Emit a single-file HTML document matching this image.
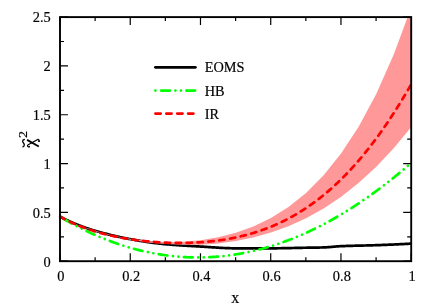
<!DOCTYPE html>
<html><head><meta charset="utf-8"><title>chart</title>
<style>
html,body{margin:0;padding:0;background:#fff;}
body{width:436px;height:305px;overflow:hidden;}
svg{display:block;}
text{font-family:"Liberation Serif",serif;fill:#000;stroke:#000;stroke-width:0.18px;}
text{filter:grayscale(1);}
</style></head><body>
<svg width="436" height="305" viewBox="0 0 436 305">
<rect width="436" height="305" fill="#fff"/>
<defs><clipPath id="c"><rect x="58.5" y="17.1" width="353.4" height="244.1"/></clipPath></defs>
<g clip-path="url(#c)">
<path d="M60.00,216.59 L60.88,217.06 L61.76,217.51 L62.64,217.97 L63.52,218.41 L64.39,218.85 L65.27,219.29 L66.15,219.72 L67.03,220.14 L67.91,220.56 L68.79,220.97 L69.67,221.38 L70.55,221.77 L71.42,222.17 L72.30,222.56 L73.18,222.94 L74.06,223.31 L74.94,223.68 L75.82,224.04 L76.70,224.40 L77.58,224.75 L78.45,225.09 L79.33,225.43 L80.21,225.77 L81.09,226.10 L81.97,226.43 L82.85,226.76 L83.73,227.08 L84.61,227.39 L85.48,227.70 L86.36,228.01 L87.24,228.31 L88.12,228.61 L89.00,228.90 L89.88,229.19 L90.76,229.47 L91.63,229.75 L92.51,230.02 L93.39,230.29 L94.27,230.55 L95.15,230.80 L96.03,231.05 L96.91,231.30 L97.79,231.55 L98.66,231.79 L99.54,232.04 L100.42,232.28 L101.30,232.52 L102.18,232.76 L103.06,232.99 L103.94,233.22 L104.82,233.46 L105.69,233.68 L106.57,233.91 L107.45,234.14 L108.33,234.36 L109.21,234.58 L110.09,234.80 L110.97,235.01 L111.85,235.23 L112.72,235.44 L113.60,235.65 L114.48,235.85 L115.36,236.06 L116.24,236.26 L117.12,236.46 L118.00,236.66 L118.88,236.85 L119.75,237.04 L120.63,237.23 L121.51,237.42 L122.39,237.60 L123.27,237.78 L124.15,237.96 L125.03,238.14 L125.91,238.31 L126.78,238.48 L127.66,238.65 L128.54,238.81 L129.42,238.98 L130.30,239.13 L131.18,239.29 L132.06,239.45 L132.94,239.60 L133.81,239.76 L134.69,239.91 L135.57,240.06 L136.45,240.22 L137.33,240.37 L138.21,240.52 L139.09,240.66 L139.97,240.81 L140.84,240.96 L141.72,241.10 L142.60,241.24 L143.48,241.38 L144.36,241.52 L145.24,241.66 L146.12,241.80 L147.00,241.93 L147.88,242.06 L148.75,242.19 L149.63,242.32 L150.51,242.44 L151.39,242.57 L152.27,242.69 L153.15,242.81 L154.03,242.93 L154.91,243.04 L155.78,243.15 L156.66,243.26 L157.54,243.37 L158.42,243.48 L159.30,243.58 L160.18,243.68 L161.06,243.77 L161.94,243.87 L162.81,243.96 L163.69,244.05 L164.57,244.13 L165.45,244.21 L166.33,244.29 L167.21,244.37 L168.09,244.45 L168.97,244.52 L169.84,244.59 L170.72,244.66 L171.60,244.73 L172.48,244.80 L173.36,244.87 L174.24,244.94 L175.12,245.00 L176.00,245.06 L176.87,245.13 L177.75,245.19 L178.63,245.25 L179.51,245.31 L180.39,245.36 L181.27,245.42 L182.15,245.48 L183.03,245.53 L183.90,245.59 L184.78,245.64 L185.66,245.70 L186.54,245.75 L187.42,245.80 L188.30,245.85 L189.18,245.90 L190.06,245.96 L190.93,246.01 L191.81,246.06 L192.69,246.11 L193.57,246.16 L194.45,246.21 L195.33,246.26 L196.21,246.31 L197.09,246.36 L197.96,246.41 L198.84,246.46 L199.72,246.51 L200.60,246.56 L201.48,246.61 L202.36,246.66 L203.24,246.71 L204.12,246.77 L204.99,246.82 L205.87,246.88 L206.75,246.94 L207.63,246.99 L208.51,247.05 L209.39,247.11 L210.27,247.17 L211.15,247.23 L212.02,247.29 L212.90,247.35 L213.78,247.41 L214.66,247.46 L215.54,247.52 L216.42,247.58 L217.30,247.63 L218.18,247.68 L219.05,247.74 L219.93,247.79 L220.81,247.84 L221.69,247.89 L222.57,247.93 L223.45,247.98 L224.33,248.02 L225.21,248.06 L226.08,248.10 L226.96,248.13 L227.84,248.16 L228.72,248.19 L229.60,248.22 L230.48,248.24 L231.36,248.26 L232.23,248.28 L233.11,248.29 L233.99,248.30 L234.87,248.31 L235.75,248.31 L236.63,248.31 L237.51,248.31 L238.39,248.31 L239.27,248.31 L240.14,248.31 L241.02,248.31 L241.90,248.31 L242.78,248.31 L243.66,248.31 L244.54,248.31 L245.42,248.31 L246.30,248.31 L247.17,248.31 L248.05,248.31 L248.93,248.31 L249.81,248.31 L250.69,248.31 L251.57,248.31 L252.45,248.31 L253.33,248.31 L254.20,248.31 L255.08,248.31 L255.96,248.31 L256.84,248.31 L257.72,248.31 L258.60,248.31 L259.48,248.31 L260.36,248.31 L261.23,248.31 L262.11,248.31 L262.99,248.31 L263.87,248.31 L264.75,248.31 L265.63,248.31 L266.51,248.31 L267.38,248.31 L268.26,248.31 L269.14,248.31 L270.02,248.31 L270.90,248.31 L271.78,248.31 L272.66,248.31 L273.54,248.31 L274.41,248.30 L275.29,248.29 L276.17,248.29 L277.05,248.28 L277.93,248.27 L278.81,248.26 L279.69,248.25 L280.57,248.24 L281.44,248.22 L282.32,248.21 L283.20,248.19 L284.08,248.18 L284.96,248.16 L285.84,248.15 L286.72,248.13 L287.60,248.11 L288.48,248.09 L289.35,248.07 L290.23,248.06 L291.11,248.04 L291.99,248.02 L292.87,248.00 L293.75,247.98 L294.63,247.96 L295.50,247.94 L296.38,247.92 L297.26,247.90 L298.14,247.88 L299.02,247.86 L299.90,247.84 L300.78,247.83 L301.66,247.81 L302.54,247.79 L303.41,247.77 L304.29,247.76 L305.17,247.74 L306.05,247.73 L306.93,247.71 L307.81,247.70 L308.69,247.69 L309.56,247.67 L310.44,247.66 L311.32,247.65 L312.20,247.64 L313.08,247.63 L313.96,247.62 L314.84,247.60 L315.72,247.59 L316.59,247.58 L317.47,247.56 L318.35,247.55 L319.23,247.53 L320.11,247.52 L320.99,247.50 L321.87,247.48 L322.75,247.46 L323.62,247.43 L324.50,247.40 L325.38,247.37 L326.26,247.32 L327.14,247.26 L328.02,247.20 L328.90,247.14 L329.78,247.06 L330.66,246.99 L331.53,246.91 L332.41,246.83 L333.29,246.75 L334.17,246.67 L335.05,246.59 L335.93,246.52 L336.81,246.45 L337.69,246.38 L338.56,246.31 L339.44,246.26 L340.32,246.21 L341.20,246.16 L342.08,246.13 L342.96,246.09 L343.84,246.06 L344.72,246.03 L345.59,246.00 L346.47,245.97 L347.35,245.94 L348.23,245.91 L349.11,245.89 L349.99,245.86 L350.87,245.84 L351.75,245.81 L352.62,245.79 L353.50,245.77 L354.38,245.74 L355.26,245.72 L356.14,245.70 L357.02,245.68 L357.90,245.66 L358.77,245.64 L359.65,245.62 L360.53,245.60 L361.41,245.58 L362.29,245.56 L363.17,245.54 L364.05,245.52 L364.93,245.50 L365.81,245.48 L366.68,245.46 L367.56,245.44 L368.44,245.42 L369.32,245.40 L370.20,245.37 L371.08,245.35 L371.96,245.33 L372.83,245.30 L373.71,245.27 L374.59,245.25 L375.47,245.22 L376.35,245.19 L377.23,245.16 L378.11,245.13 L378.99,245.10 L379.87,245.06 L380.74,245.03 L381.62,245.00 L382.50,244.97 L383.38,244.93 L384.26,244.90 L385.14,244.86 L386.02,244.83 L386.90,244.79 L387.77,244.76 L388.65,244.72 L389.53,244.68 L390.41,244.64 L391.29,244.61 L392.17,244.57 L393.05,244.53 L393.93,244.49 L394.80,244.45 L395.68,244.41 L396.56,244.37 L397.44,244.33 L398.32,244.29 L399.20,244.25 L400.08,244.20 L400.95,244.16 L401.83,244.12 L402.71,244.08 L403.59,244.03 L404.47,243.99 L405.35,243.94 L406.23,243.90 L407.11,243.86 L407.99,243.81 L408.86,243.76 L409.74,243.72 L410.62,243.67 L411.50,243.63" fill="none" stroke="#000" stroke-width="2.7"/>
<path d="M60.00,216.59 L60.88,217.14 L61.76,217.67 L62.64,218.21 L63.52,218.73 L64.39,219.26 L65.27,219.78 L66.15,220.29 L67.03,220.80 L67.91,221.30 L68.79,221.81 L69.67,222.30 L70.55,222.79 L71.42,223.28 L72.30,223.77 L73.18,224.25 L74.06,224.72 L74.94,225.19 L75.82,225.66 L76.70,226.13 L77.58,226.59 L78.45,227.04 L79.33,227.50 L80.21,227.94 L81.09,228.39 L81.97,228.83 L82.85,229.27 L83.73,229.70 L84.61,230.13 L85.48,230.56 L86.36,230.98 L87.24,231.40 L88.12,231.82 L89.00,232.23 L89.88,232.64 L90.76,233.04 L91.63,233.45 L92.51,233.84 L93.39,234.24 L94.27,234.63 L95.15,235.02 L96.03,235.40 L96.91,235.78 L97.79,236.16 L98.66,236.54 L99.54,236.91 L100.42,237.28 L101.30,237.64 L102.18,238.00 L103.06,238.36 L103.94,238.71 L104.82,239.06 L105.69,239.41 L106.57,239.75 L107.45,240.09 L108.33,240.43 L109.21,240.76 L110.09,241.09 L110.97,241.42 L111.85,241.75 L112.72,242.07 L113.60,242.38 L114.48,242.70 L115.36,243.01 L116.24,243.31 L117.12,243.62 L118.00,243.92 L118.88,244.22 L119.75,244.51 L120.63,244.80 L121.51,245.09 L122.39,245.37 L123.27,245.65 L124.15,245.93 L125.03,246.20 L125.91,246.47 L126.78,246.74 L127.66,247.00 L128.54,247.26 L129.42,247.52 L130.30,247.78 L131.18,248.03 L132.06,248.27 L132.94,248.52 L133.81,248.76 L134.69,249.00 L135.57,249.23 L136.45,249.46 L137.33,249.69 L138.21,249.91 L139.09,250.14 L139.97,250.35 L140.84,250.57 L141.72,250.78 L142.60,250.99 L143.48,251.19 L144.36,251.39 L145.24,251.59 L146.12,251.78 L147.00,251.98 L147.88,252.16 L148.75,252.35 L149.63,252.53 L150.51,252.71 L151.39,252.88 L152.27,253.06 L153.15,253.22 L154.03,253.39 L154.91,253.55 L155.78,253.71 L156.66,253.86 L157.54,254.02 L158.42,254.17 L159.30,254.31 L160.18,254.45 L161.06,254.59 L161.94,254.73 L162.81,254.86 L163.69,254.99 L164.57,255.11 L165.45,255.24 L166.33,255.35 L167.21,255.47 L168.09,255.58 L168.97,255.69 L169.84,255.80 L170.72,255.90 L171.60,256.00 L172.48,256.10 L173.36,256.19 L174.24,256.28 L175.12,256.36 L176.00,256.45 L176.87,256.53 L177.75,256.60 L178.63,256.68 L179.51,256.75 L180.39,256.81 L181.27,256.88 L182.15,256.94 L183.03,256.99 L183.90,257.05 L184.78,257.10 L185.66,257.14 L186.54,257.19 L187.42,257.23 L188.30,257.26 L189.18,257.30 L190.06,257.33 L190.93,257.36 L191.81,257.38 L192.69,257.40 L193.57,257.42 L194.45,257.43 L195.33,257.44 L196.21,257.45 L197.09,257.45 L197.96,257.46 L198.84,257.45 L199.72,257.45 L200.60,257.44 L201.48,257.43 L202.36,257.41 L203.24,257.39 L204.12,257.37 L204.99,257.35 L205.87,257.32 L206.75,257.29 L207.63,257.25 L208.51,257.21 L209.39,257.17 L210.27,257.13 L211.15,257.08 L212.02,257.03 L212.90,256.97 L213.78,256.92 L214.66,256.85 L215.54,256.79 L216.42,256.72 L217.30,256.65 L218.18,256.58 L219.05,256.50 L219.93,256.42 L220.81,256.34 L221.69,256.25 L222.57,256.16 L223.45,256.06 L224.33,255.97 L225.21,255.87 L226.08,255.76 L226.96,255.66 L227.84,255.55 L228.72,255.43 L229.60,255.32 L230.48,255.20 L231.36,255.08 L232.23,254.95 L233.11,254.82 L233.99,254.69 L234.87,254.55 L235.75,254.41 L236.63,254.27 L237.51,254.12 L238.39,253.98 L239.27,253.82 L240.14,253.67 L241.02,253.51 L241.90,253.35 L242.78,253.18 L243.66,253.01 L244.54,252.84 L245.42,252.67 L246.30,252.49 L247.17,252.31 L248.05,252.12 L248.93,251.94 L249.81,251.75 L250.69,251.55 L251.57,251.35 L252.45,251.15 L253.33,250.95 L254.20,250.74 L255.08,250.53 L255.96,250.32 L256.84,250.10 L257.72,249.88 L258.60,249.66 L259.48,249.43 L260.36,249.20 L261.23,248.97 L262.11,248.73 L262.99,248.49 L263.87,248.25 L264.75,248.01 L265.63,247.76 L266.51,247.50 L267.38,247.25 L268.26,246.99 L269.14,246.73 L270.02,246.46 L270.90,246.19 L271.78,245.92 L272.66,245.65 L273.54,245.37 L274.41,245.09 L275.29,244.80 L276.17,244.52 L277.05,244.23 L277.93,243.93 L278.81,243.63 L279.69,243.33 L280.57,243.03 L281.44,242.72 L282.32,242.41 L283.20,242.10 L284.08,241.78 L284.96,241.46 L285.84,241.14 L286.72,240.82 L287.60,240.49 L288.48,240.15 L289.35,239.82 L290.23,239.48 L291.11,239.14 L291.99,238.79 L292.87,238.44 L293.75,238.09 L294.63,237.74 L295.50,237.38 L296.38,237.02 L297.26,236.65 L298.14,236.29 L299.02,235.92 L299.90,235.54 L300.78,235.17 L301.66,234.79 L302.54,234.40 L303.41,234.02 L304.29,233.63 L305.17,233.23 L306.05,232.84 L306.93,232.44 L307.81,232.04 L308.69,231.63 L309.56,231.22 L310.44,230.81 L311.32,230.39 L312.20,229.98 L313.08,229.55 L313.96,229.13 L314.84,228.70 L315.72,228.27 L316.59,227.84 L317.47,227.40 L318.35,226.96 L319.23,226.52 L320.11,226.07 L320.99,225.62 L321.87,225.17 L322.75,224.71 L323.62,224.25 L324.50,223.79 L325.38,223.32 L326.26,222.85 L327.14,222.38 L328.02,221.91 L328.90,221.43 L329.78,220.95 L330.66,220.46 L331.53,219.98 L332.41,219.49 L333.29,218.99 L334.17,218.50 L335.05,217.99 L335.93,217.49 L336.81,216.99 L337.69,216.48 L338.56,215.96 L339.44,215.45 L340.32,214.93 L341.20,214.41 L342.08,213.88 L342.96,213.35 L343.84,212.82 L344.72,212.29 L345.59,211.75 L346.47,211.21 L347.35,210.67 L348.23,210.12 L349.11,209.57 L349.99,209.02 L350.87,208.46 L351.75,207.90 L352.62,207.34 L353.50,206.77 L354.38,206.20 L355.26,205.63 L356.14,205.06 L357.02,204.48 L357.90,203.90 L358.77,203.31 L359.65,202.73 L360.53,202.14 L361.41,201.54 L362.29,200.95 L363.17,200.35 L364.05,199.75 L364.93,199.14 L365.81,198.53 L366.68,197.92 L367.56,197.30 L368.44,196.69 L369.32,196.06 L370.20,195.44 L371.08,194.81 L371.96,194.18 L372.83,193.55 L373.71,192.91 L374.59,192.27 L375.47,191.63 L376.35,190.99 L377.23,190.34 L378.11,189.69 L378.99,189.03 L379.87,188.37 L380.74,187.71 L381.62,187.05 L382.50,186.38 L383.38,185.71 L384.26,185.04 L385.14,184.36 L386.02,183.68 L386.90,183.00 L387.77,182.31 L388.65,181.63 L389.53,180.93 L390.41,180.24 L391.29,179.54 L392.17,178.84 L393.05,178.14 L393.93,177.43 L394.80,176.72 L395.68,176.01 L396.56,175.29 L397.44,174.58 L398.32,173.85 L399.20,173.13 L400.08,172.40 L400.95,171.67 L401.83,170.94 L402.71,170.20 L403.59,169.46 L404.47,168.72 L405.35,167.97 L406.23,167.22 L407.11,166.47 L407.99,165.72 L408.86,164.96 L409.74,164.20 L410.62,163.43 L411.50,162.67" fill="none" stroke="#00ff00" stroke-width="2.7" stroke-linecap="round" stroke-dasharray="8.75 5.58 0.01 5.53 0.01 5.48" stroke-dashoffset="20.5"/>
</g>
<path d="M60.00,261.2 v-8 M60.00,17.1 v8 M95.12,261.2 v-4 M95.12,17.1 v4 M130.24,261.2 v-8 M130.24,17.1 v8 M165.36,261.2 v-4 M165.36,17.1 v4 M200.48,261.2 v-8 M200.48,17.1 v8 M235.60,261.2 v-4 M235.60,17.1 v4 M270.72,261.2 v-8 M270.72,17.1 v8 M305.84,261.2 v-4 M305.84,17.1 v4 M340.96,261.2 v-8 M340.96,17.1 v8 M376.08,261.2 v-4 M376.08,17.1 v4 M411.20,261.2 v-8 M411.20,17.1 v8 M60.0,261.20 h8 M411.2,261.20 h-8 M60.0,236.79 h4 M411.2,236.79 h-4 M60.0,212.38 h8 M411.2,212.38 h-8 M60.0,187.97 h4 M411.2,187.97 h-4 M60.0,163.56 h8 M411.2,163.56 h-8 M60.0,139.15 h4 M411.2,139.15 h-4 M60.0,114.74 h8 M411.2,114.74 h-8 M60.0,90.33 h4 M411.2,90.33 h-4 M60.0,65.92 h8 M411.2,65.92 h-8 M60.0,41.51 h4 M411.2,41.51 h-4 M60.0,17.10 h8 M411.2,17.10 h-8" fill="none" stroke="#000" stroke-width="1.2"/>
<g clip-path="url(#c)">
<path d="M60.00,217.08 L77.58,224.73 L95.15,230.82 L112.73,235.49 L130.30,238.86 L147.88,240.99 L165.45,241.94 L183.03,241.68 L200.60,240.14 L218.18,237.22 L235.75,232.72 L253.33,226.40 L270.90,217.93 L288.48,206.92 L306.05,192.88 L323.62,175.24 L341.20,153.36 L358.78,126.46 L376.35,93.69 L393.93,54.09 L411.50,6.58 L411.50,126.76 L393.93,147.99 L376.35,166.63 L358.78,182.81 L341.20,196.70 L323.62,208.46 L306.05,218.25 L288.48,226.25 L270.90,232.62 L253.33,237.51 L235.75,241.06 L218.18,243.41 L200.60,244.65 L183.03,244.87 L165.45,244.11 L147.88,242.40 L130.30,239.70 L112.73,235.98 L95.15,231.44 L77.58,225.29 L60.00,217.08Z" fill="#ff9999"/>
<path d="M60.00,216.59 L60.88,217.09 L61.76,217.58 L62.64,218.06 L63.52,218.53 L64.39,219.00 L65.27,219.46 L66.15,219.91 L67.03,220.35 L67.91,220.79 L68.79,221.22 L69.67,221.64 L70.55,222.05 L71.42,222.46 L72.30,222.87 L73.18,223.26 L74.06,223.65 L74.94,224.04 L75.82,224.41 L76.70,224.79 L77.58,225.15 L78.45,225.51 L79.33,225.87 L80.21,226.22 L81.09,226.56 L81.97,226.90 L82.85,227.24 L83.73,227.56 L84.61,227.89 L85.48,228.21 L86.36,228.52 L87.24,228.83 L88.12,229.13 L89.00,229.43 L89.88,229.73 L90.76,230.02 L91.63,230.30 L92.51,230.59 L93.39,230.86 L94.27,231.14 L95.15,231.40 L96.03,231.67 L96.91,231.93 L97.79,232.19 L98.66,232.44 L99.54,232.69 L100.42,232.93 L101.30,233.17 L102.18,233.41 L103.06,233.64 L103.94,233.87 L104.82,234.10 L105.69,234.32 L106.57,234.54 L107.45,234.75 L108.33,234.96 L109.21,235.17 L110.09,235.38 L110.97,235.58 L111.85,235.78 L112.72,235.97 L113.60,236.16 L114.48,236.35 L115.36,236.54 L116.24,236.72 L117.12,236.90 L118.00,237.07 L118.88,237.25 L119.75,237.41 L120.63,237.58 L121.51,237.75 L122.39,237.91 L123.27,238.06 L124.15,238.22 L125.03,238.37 L125.91,238.52 L126.78,238.67 L127.66,238.81 L128.54,238.95 L129.42,239.09 L130.30,239.23 L131.18,239.36 L132.06,239.49 L132.94,239.62 L133.81,239.75 L134.69,239.87 L135.57,239.99 L136.45,240.11 L137.33,240.22 L138.21,240.33 L139.09,240.44 L139.97,240.55 L140.84,240.66 L141.72,240.76 L142.60,240.86 L143.48,240.96 L144.36,241.05 L145.24,241.15 L146.12,241.24 L147.00,241.32 L147.88,241.41 L148.75,241.49 L149.63,241.57 L150.51,241.65 L151.39,241.73 L152.27,241.80 L153.15,241.87 L154.03,241.94 L154.91,242.01 L155.78,242.08 L156.66,242.14 L157.54,242.20 L158.42,242.26 L159.30,242.31 L160.18,242.36 L161.06,242.41 L161.94,242.46 L162.81,242.51 L163.69,242.55 L164.57,242.59 L165.45,242.63 L166.33,242.67 L167.21,242.71 L168.09,242.74 L168.97,242.77 L169.84,242.80 L170.72,242.82 L171.60,242.84 L172.48,242.87 L173.36,242.88 L174.24,242.90 L175.12,242.91 L176.00,242.92 L176.87,242.93 L177.75,242.94 L178.63,242.95 L179.51,242.95 L180.39,242.95 L181.27,242.94 L182.15,242.94 L183.03,242.93 L183.90,242.92 L184.78,242.91 L185.66,242.89 L186.54,242.88 L187.42,242.86 L188.30,242.83 L189.18,242.81 L190.06,242.78 L190.93,242.75 L191.81,242.72 L192.69,242.68 L193.57,242.65 L194.45,242.61 L195.33,242.56 L196.21,242.52 L197.09,242.47 L197.96,242.42 L198.84,242.37 L199.72,242.31 L200.60,242.25 L201.48,242.19 L202.36,242.13 L203.24,242.06 L204.12,241.99 L204.99,241.92 L205.87,241.84 L206.75,241.76 L207.63,241.68 L208.51,241.60 L209.39,241.51 L210.27,241.42 L211.15,241.33 L212.02,241.24 L212.90,241.14 L213.78,241.04 L214.66,240.93 L215.54,240.82 L216.42,240.71 L217.30,240.60 L218.18,240.48 L219.05,240.36 L219.93,240.24 L220.81,240.11 L221.69,239.99 L222.57,239.85 L223.45,239.72 L224.33,239.58 L225.21,239.43 L226.08,239.29 L226.96,239.14 L227.84,238.99 L228.72,238.83 L229.60,238.67 L230.48,238.51 L231.36,238.34 L232.23,238.17 L233.11,238.00 L233.99,237.82 L234.87,237.64 L235.75,237.46 L236.63,237.27 L237.51,237.08 L238.39,236.88 L239.27,236.68 L240.14,236.48 L241.02,236.27 L241.90,236.06 L242.78,235.85 L243.66,235.63 L244.54,235.40 L245.42,235.18 L246.30,234.95 L247.17,234.71 L248.05,234.47 L248.93,234.23 L249.81,233.98 L250.69,233.73 L251.57,233.48 L252.45,233.22 L253.33,232.96 L254.20,232.69 L255.08,232.41 L255.96,232.14 L256.84,231.86 L257.72,231.57 L258.60,231.28 L259.48,230.99 L260.36,230.69 L261.23,230.38 L262.11,230.08 L262.99,229.76 L263.87,229.45 L264.75,229.12 L265.63,228.80 L266.51,228.47 L267.38,228.13 L268.26,227.79 L269.14,227.44 L270.02,227.09 L270.90,226.74 L271.78,226.38 L272.66,226.01 L273.54,225.64 L274.41,225.26 L275.29,224.88 L276.17,224.50 L277.05,224.11 L277.93,223.71 L278.81,223.31 L279.69,222.90 L280.57,222.49 L281.44,222.07 L282.32,221.65 L283.20,221.22 L284.08,220.79 L284.96,220.35 L285.84,219.90 L286.72,219.45 L287.60,219.00 L288.48,218.53 L289.35,218.07 L290.23,217.59 L291.11,217.11 L291.99,216.63 L292.87,216.14 L293.75,215.64 L294.63,215.14 L295.50,214.63 L296.38,214.12 L297.26,213.60 L298.14,213.08 L299.02,212.54 L299.90,212.01 L300.78,211.46 L301.66,210.91 L302.54,210.36 L303.41,209.79 L304.29,209.23 L305.17,208.65 L306.05,208.07 L306.93,207.48 L307.81,206.89 L308.69,206.29 L309.56,205.68 L310.44,205.07 L311.32,204.45 L312.20,203.82 L313.08,203.19 L313.96,202.55 L314.84,201.90 L315.72,201.25 L316.59,200.59 L317.47,199.92 L318.35,199.25 L319.23,198.57 L320.11,197.88 L320.99,197.19 L321.87,196.49 L322.75,195.78 L323.62,195.07 L324.50,194.34 L325.38,193.62 L326.26,192.88 L327.14,192.14 L328.02,191.39 L328.90,190.63 L329.78,189.87 L330.66,189.09 L331.53,188.32 L332.41,187.53 L333.29,186.74 L334.17,185.94 L335.05,185.13 L335.93,184.31 L336.81,183.49 L337.69,182.66 L338.56,181.82 L339.44,180.97 L340.32,180.12 L341.20,179.26 L342.08,178.39 L342.96,177.52 L343.84,176.63 L344.72,175.74 L345.59,174.84 L346.47,173.94 L347.35,173.02 L348.23,172.10 L349.11,171.17 L349.99,170.23 L350.87,169.29 L351.75,168.33 L352.62,167.37 L353.50,166.40 L354.38,165.42 L355.26,164.44 L356.14,163.44 L357.02,162.44 L357.90,161.43 L358.77,160.41 L359.65,159.39 L360.53,158.35 L361.41,157.31 L362.29,156.26 L363.17,155.20 L364.05,154.13 L364.93,153.06 L365.81,151.97 L366.68,150.88 L367.56,149.78 L368.44,148.67 L369.32,147.56 L370.20,146.43 L371.08,145.30 L371.96,144.15 L372.83,143.00 L373.71,141.84 L374.59,140.68 L375.47,139.50 L376.35,138.31 L377.23,137.12 L378.11,135.92 L378.99,134.71 L379.87,133.49 L380.74,132.26 L381.62,131.03 L382.50,129.78 L383.38,128.53 L384.26,127.26 L385.14,125.99 L386.02,124.71 L386.90,123.43 L387.77,122.13 L388.65,120.82 L389.53,119.51 L390.41,118.19 L391.29,116.85 L392.17,115.51 L393.05,114.16 L393.93,112.80 L394.80,111.44 L395.68,110.06 L396.56,108.68 L397.44,107.28 L398.32,105.88 L399.20,104.47 L400.08,103.05 L400.95,101.62 L401.83,100.18 L402.71,98.73 L403.59,97.28 L404.47,95.81 L405.35,94.34 L406.23,92.86 L407.11,91.37 L407.99,89.87 L408.86,88.36 L409.74,86.84 L410.62,85.31 L411.50,83.78" fill="none" stroke="#ff0000" stroke-width="2.7" stroke-linecap="round" stroke-dasharray="5.3 5.6"/>
</g>
<rect x="60.0" y="17.1" width="351.2" height="244.1" fill="none" stroke="#000" stroke-width="1.9"/>
<g font-size="14.4"><text x="60.90" y="281.2" text-anchor="middle">0</text><text x="131.14" y="281.2" text-anchor="middle">0.2</text><text x="201.38" y="281.2" text-anchor="middle">0.4</text><text x="271.62" y="281.2" text-anchor="middle">0.6</text><text x="341.86" y="281.2" text-anchor="middle">0.8</text><text x="412.10" y="281.2" text-anchor="middle">1</text><text x="50.8" y="266.50" text-anchor="end">0</text><text x="50.8" y="217.68" text-anchor="end">0.5</text><text x="50.8" y="168.86" text-anchor="end">1</text><text x="50.8" y="120.04" text-anchor="end">1.5</text><text x="50.8" y="71.22" text-anchor="end">2</text><text x="50.8" y="22.40" text-anchor="end">2.5</text></g>
<text x="235.3" y="303.1" font-size="16" text-anchor="middle">x</text>
<g fill="none" stroke="#000" stroke-linecap="round">
<path d="M27.1,139.9 L38.8,146.5" stroke-width="1.8" stroke-linecap="butt"/>
<path d="M29.2,146.8 C27.4,147.0 26.8,145.5 28.2,144.7 L37.2,139.8 C38.0,138.8 39.6,139.3 39.0,141.5" stroke-width="1.15"/>
<path d="M24.3,139.5 C22.0,139.9 22.5,141.9 23.5,143.0 C24.5,144.1 24.8,146.2 22.9,146.8" stroke-width="1.3"/>
</g>
<circle cx="29.1" cy="146.6" r="0.85" fill="#000"/><circle cx="39.0" cy="141.2" r="0.85" fill="#000"/>
<g transform="translate(35,147.5) rotate(-90)"><text x="0" y="0" font-size="13.4" transform="translate(9.5,-8.0) scale(1.06,1)">2</text></g>
<path d="M155.4,67.3 H195.4" stroke="#000" stroke-width="2.7" stroke-linecap="round"/>
<path d="M155.4,90.6 H195.4" stroke="#00ff00" stroke-width="2.7" stroke-linecap="round" stroke-dasharray="0.01 5.75 8.7 5.55 0.01 5.5 0.01 5.45 8.7 9"/>
<path d="M155.4,113.6 H193.4" stroke="#ff0000" stroke-width="2.7" stroke-linecap="round" stroke-dasharray="5.3 5.6"/>
<g font-size="14.3"><text x="204.8" y="71.8">EOMS</text><text x="204.8" y="95.7">HB</text><text x="204.8" y="118.8">IR</text></g>
</svg>
</body></html>
